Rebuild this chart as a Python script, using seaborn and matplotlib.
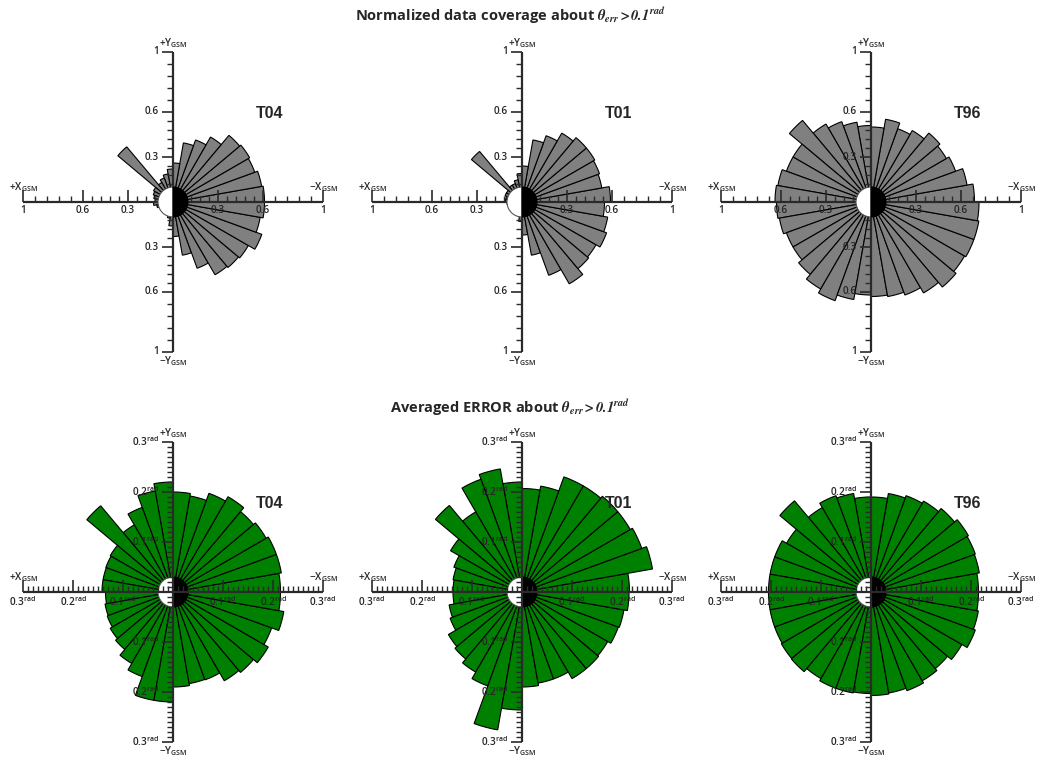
import numpy as np
import matplotlib
matplotlib.use("Agg")
import matplotlib.pyplot as plt
from matplotlib.patches import Wedge
import seaborn as sns

sns.set_style("white")
plt.rcParams['font.family'] = ['Open Sans', 'DejaVu Sans']
plt.rcParams['mathtext.fontset'] = 'stix'

# sector start angles (deg), counter-clockwise from the -X_GSM side (right of each panel)
sector_deg = np.arange(0, 360, 10)
models = ["T04", "T01", "T96"]

# normalized data coverage, one value per 10 deg sector
cov_t04 = [0.61, 0.60, 0.58, 0.59, 0.58, 0.50, 0.44, 0.40, 0.26,
           0.22, 0.19, 0.17, 0.15, 0.48, 0.15, 0.14, 0.13, 0.12,
           0.13, 0.11, 0.09, 0.07, 0.06, 0.06, 0.07, 0.11, 0.16,
           0.23, 0.36, 0.47, 0.56, 0.57, 0.58, 0.63, 0.59, 0.61]
cov_t01 = [0.59, 0.54, 0.55, 0.56, 0.56, 0.53, 0.47, 0.42, 0.24,
           0.19, 0.15, 0.13, 0.13, 0.44, 0.12, 0.12, 0.11, 0.11,
           0.10, 0.08, 0.06, 0.05, 0.05, 0.05, 0.06, 0.08, 0.13,
           0.22, 0.36, 0.52, 0.63, 0.58, 0.57, 0.60, 0.58, 0.55]
cov_t96 = [0.69, 0.65, 0.60, 0.58, 0.60, 0.55, 0.52, 0.56, 0.50,
           0.51, 0.54, 0.57, 0.60, 0.71, 0.60, 0.60, 0.63, 0.64,
           0.63, 0.62, 0.60, 0.60, 0.63, 0.67, 0.70, 0.66, 0.62,
           0.63, 0.64, 0.66, 0.70, 0.74, 0.72, 0.73, 0.73, 0.72]

# averaged error (rad), one value per 10 deg sector
err_t04 = [0.215, 0.220, 0.220, 0.215, 0.210, 0.220, 0.210, 0.195, 0.200,
           0.220, 0.205, 0.180, 0.155, 0.225, 0.145, 0.143, 0.142, 0.142,
           0.135, 0.138, 0.140, 0.145, 0.150, 0.165, 0.180, 0.220, 0.220,
           0.190, 0.186, 0.187, 0.205, 0.210, 0.220, 0.210, 0.225, 0.215]
err_t01 = [0.215, 0.265, 0.255, 0.250, 0.250, 0.245, 0.245, 0.215, 0.207,
           0.220, 0.250, 0.240, 0.185, 0.226, 0.165, 0.145, 0.140, 0.138,
           0.138, 0.148, 0.153, 0.170, 0.175, 0.185, 0.200, 0.280, 0.236,
           0.190, 0.185, 0.185, 0.200, 0.200, 0.198, 0.205, 0.207, 0.214]
err_t96 = [0.215, 0.220, 0.222, 0.225, 0.218, 0.210, 0.205, 0.200, 0.190,
           0.190, 0.200, 0.205, 0.195, 0.238, 0.195, 0.205, 0.205, 0.205,
           0.205, 0.205, 0.205, 0.207, 0.208, 0.200, 0.205, 0.205, 0.203,
           0.207, 0.205, 0.210, 0.205, 0.200, 0.210, 0.222, 0.218, 0.215]

cov_major = [0.3, 0.6, 1.0]
cov_minor = [0.06, 0.12, 0.18, 0.24, 0.36, 0.42, 0.48, 0.54, 0.68, 0.76, 0.84, 0.92]
cov_labels = ["0.3", "0.6", "1"]
err_major = [0.1, 0.2, 0.3]
err_minor = [i / 100 for i in range(1, 30) if i % 10]
err_labels = ["0.1$^{\\mathregular{rad}}$", "0.2$^{\\mathregular{rad}}$", "0.3$^{\\mathregular{rad}}$"]

W, H = 1038, 757
PX = 150     # pixels from centre to axis end
HALF = 172   # half size of each panel in pixels
AXC = '#2a2a2a'
TFS = 7.2    # tick label size

fig = plt.figure(figsize=(W / 100, H / 100), dpi=100)


def panel(cx, cy, radii, color, amax, minor, major, labels, name, circle_top):
    rect = [(cx - HALF) / W, 1 - (cy + HALF) / H, 2 * HALF / W, 2 * HALF / H]
    u = amax / PX
    lim = HALF * u

    axp = fig.add_axes(rect, projection='polar')
    axp.bar(np.deg2rad(sector_deg), radii, width=np.deg2rad(10), align='edge',
            color=color, edgecolor='black', linewidth=0.8)
    axp.set_ylim(0, lim)
    axp.axis('off')

    ax = fig.add_axes(rect)
    ax.set_xlim(-lim, lim)
    ax.set_ylim(-lim, lim)
    ax.axis('off')
    ax.patch.set_alpha(0)

    # earth symbol
    zc = 4 if circle_top else 1
    ax.add_patch(Wedge((0, 0), 15 * u, 90, 270, fc='white', ec='#555555', lw=0.8, zorder=zc))
    ax.add_patch(Wedge((0, 0), 15 * u, -90, 90, fc='black', ec='black', lw=0.8, zorder=zc))

    # cross axes with ticks
    ax.hlines(0, -amax, amax, color=AXC, lw=1.6, zorder=2)
    ax.vlines(0, -amax, amax, color=AXC, lw=1.6, zorder=2)
    for v in minor:
        ax.vlines([v, -v], 0, 6 * u, color=AXC, lw=1.0, zorder=2)
        ax.hlines([v, -v], -6 * u, 0, color=AXC, lw=1.0, zorder=2)
    for v, lab in zip(major, labels):
        ax.vlines([v, -v], 0, 12 * u, color=AXC, lw=1.2, zorder=2)
        ax.hlines([v, -v], -11 * u, 0, color=AXC, lw=1.2, zorder=2)
        for s in (1, -1):
            ax.text(s * v, -3 * u, lab, ha='center', va='top', fontsize=TFS,
                    fontweight='semibold', zorder=5)
            ax.text(-14 * u, s * v, lab, ha='right', va='center', fontsize=TFS,
                    fontweight='semibold', zorder=5)

    kw = dict(fontsize=7.2, fontweight='semibold')
    ax.text(-amax, 8 * u, '+X$_{\\mathregular{GSM}}$', ha='center', va='bottom', **kw)
    ax.text(amax, 8 * u, '\u2212X$_{\\mathregular{GSM}}$', ha='center', va='bottom', **kw)
    ax.text(0, amax + 2 * u, '+Y$_{\\mathregular{GSM}}$', ha='center', va='bottom', **kw)
    ax.text(0, -amax - 3 * u, '\u2212Y$_{\\mathregular{GSM}}$', ha='center', va='top', **kw)

    ax.text(97 * u, 88 * u, name, ha='center', va='center', fontsize=11.5,
            fontweight='bold', family=['Liberation Sans', 'DejaVu Sans'])


centers_x = [173, 522, 871]
for cx, r, name in zip(centers_x, [cov_t04, cov_t01, cov_t96], models):
    panel(cx, 202, r, '#808080', 1.0, cov_minor, cov_major, cov_labels, name, True)
for cx, r, name in zip(centers_x, [err_t04, err_t01, err_t96], models):
    panel(cx, 592, r, '#008000', 0.3, err_minor, err_major, err_labels, name, False)

fig.text(510 / W, 1 - 16 / H, r'Normalized data coverage about $\mathbfit{\theta_{err} > 0.1^{rad}}$',
         ha='center', va='center', fontsize=10.5, fontweight='bold')
fig.text(510 / W, 1 - 408 / H, r'Averaged ERROR about $\mathbfit{\theta_{err} > 0.1^{rad}}$',
         ha='center', va='center', fontsize=10.5, fontweight='bold')

fig.savefig('out.png', dpi=100)
